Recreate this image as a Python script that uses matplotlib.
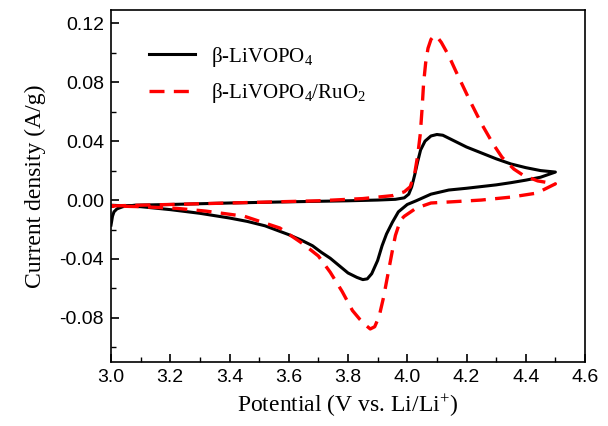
import numpy as np
import matplotlib
matplotlib.use("Agg")
import matplotlib.pyplot as plt
from matplotlib.ticker import MultipleLocator

plt.rcParams['mathtext.fontset'] = 'custom'
plt.rcParams['mathtext.rm'] = 'Liberation Serif'
plt.rcParams['mathtext.it'] = 'Liberation Serif:italic'

# beta-LiVOPO4 cyclic voltammogram (anodic sweep then cathodic sweep)
v_bare = [3.00, 3.005, 3.01, 3.02, 3.04, 3.08, 3.20, 3.40, 3.60, 3.80, 3.90, 3.96, 3.99,
          4.005, 4.015, 4.025, 4.035, 4.045, 4.06, 4.08, 4.10, 4.12, 4.15, 4.20, 4.25,
          4.30, 4.35, 4.40, 4.45, 4.50,
          4.45, 4.40, 4.35, 4.30, 4.20, 4.14, 4.08, 4.03, 4.00, 3.97, 3.95, 3.93, 3.915,
          3.90, 3.88, 3.865, 3.85, 3.83, 3.80, 3.77, 3.74, 3.71, 3.68, 3.64, 3.60, 3.56,
          3.52, 3.46, 3.40, 3.30, 3.20, 3.10, 3.00]
i_bare = [-0.017, -0.011, -0.008, -0.006, -0.0045, -0.0035, -0.003, -0.002, -0.0012,
          -0.0005, 0.0, 0.0005, 0.0015,
          0.004, 0.009, 0.017, 0.026, 0.034, 0.040, 0.0435, 0.0445, 0.044, 0.041, 0.036,
          0.032, 0.028, 0.0245, 0.022, 0.020, 0.019,
          0.0155, 0.0135, 0.0118, 0.0103, 0.008, 0.0068, 0.004, -0.0005, -0.003, -0.008,
          -0.015, -0.023, -0.031,
          -0.041, -0.050, -0.0535, -0.054, -0.0525, -0.0495, -0.0445, -0.0395, -0.0355,
          -0.031, -0.027, -0.0235, -0.0205, -0.0175, -0.0145, -0.0122, -0.009, -0.0065,
          -0.0045, -0.0035]

# beta-LiVOPO4/RuO2
v_ruo2 = [3.00, 3.10, 3.30, 3.50, 3.70, 3.85, 3.95, 3.99, 4.01, 4.025, 4.035, 4.044,
          4.05, 4.055, 4.062, 4.07, 4.08, 4.09, 4.10, 4.115, 4.14, 4.165, 4.184, 4.21,
          4.25, 4.29, 4.32, 4.36, 4.39, 4.44, 4.50,
          4.45, 4.43, 4.35, 4.25, 4.15, 4.08, 4.03, 3.99, 3.977, 3.96, 3.95, 3.935, 3.92,
          3.905, 3.89, 3.875, 3.86, 3.84, 3.815, 3.78, 3.74, 3.70, 3.65, 3.57, 3.45,
          3.32, 3.22, 3.10, 3.00]
i_ruo2 = [-0.004, -0.0035, -0.0025, -0.0015, -0.0005, 0.001, 0.003, 0.0056, 0.009,
          0.018, 0.030, 0.045, 0.062, 0.079, 0.093, 0.103, 0.109, 0.1115, 0.111, 0.107,
          0.098, 0.087, 0.079, 0.068, 0.052, 0.038, 0.029, 0.021, 0.017, 0.013, 0.011,
          0.006, 0.0045, 0.002, 0.0, -0.0012, -0.002, -0.0055, -0.011, -0.0136, -0.024,
          -0.034, -0.050, -0.066, -0.079, -0.086, -0.0875, -0.085, -0.081, -0.075,
          -0.062, -0.049, -0.038, -0.030, -0.019, -0.011, -0.0075, -0.0056, -0.0045,
          -0.004]

x_ticks = [3.0, 3.2, 3.4, 3.6, 3.8, 4.0, 4.2, 4.4, 4.6]
x_labels = ['3.0', '3.2', '3.4', '3.6', '3.8', '4.0', '4.2', '4.4', '4.6']
y_ticks = [-0.08, -0.04, 0.0, 0.04, 0.08, 0.12]
y_labels = ['-0.08', '-0.04', '0.00', '0.04', '0.08', '0.12']

serif = ["Liberation Serif", "DejaVu Serif"]
sans = ["Liberation Sans", "DejaVu Sans"]

fig = plt.figure(figsize=(6.08, 4.26), dpi=100)
ax = fig.add_axes([0.1826, 0.150, 0.7796, 0.8265])

ax.plot(v_bare, i_bare, '-', color='black', lw=2.2, label='β-LiVOPO$_4$')
ax.plot(v_ruo2, i_ruo2, '--', color='red', lw=2.4, dashes=(4.5, 2.8),
        label='β-LiVOPO$_4$/RuO$_2$')

ax.set_xlim(3.0, 4.6)
ax.set_ylim(-0.110, 0.129)
ax.set_xticks(x_ticks)
ax.set_xticklabels(x_labels)
ax.set_yticks(y_ticks)
ax.set_yticklabels(y_labels)
ax.xaxis.set_minor_locator(MultipleLocator(0.1))
ax.yaxis.set_minor_locator(MultipleLocator(0.02))
ax.tick_params(which='both', direction='in', top=False, right=False)
ax.tick_params(which='major', length=6, width=1.2, labelsize=14, pad=5)
ax.tick_params(which='minor', length=3.5, width=1.0)
for lab in ax.get_xticklabels() + ax.get_yticklabels():
    lab.set_family(sans)
for s in ax.spines.values():
    s.set_linewidth(1.2)

ax.set_xlabel('Potential (V vs. Li/Li$^{+}$)', family=serif, fontsize=17, labelpad=5)
ax.set_ylabel('Current density (A/g)', family=serif, fontsize=17, labelpad=10)

ax.legend(loc='upper left', bbox_to_anchor=(0.04, 0.955), frameon=False,
          prop={'family': serif, 'size': 15}, handlelength=2.2, labelspacing=0.6)

fig.savefig('out.png', dpi=100)
